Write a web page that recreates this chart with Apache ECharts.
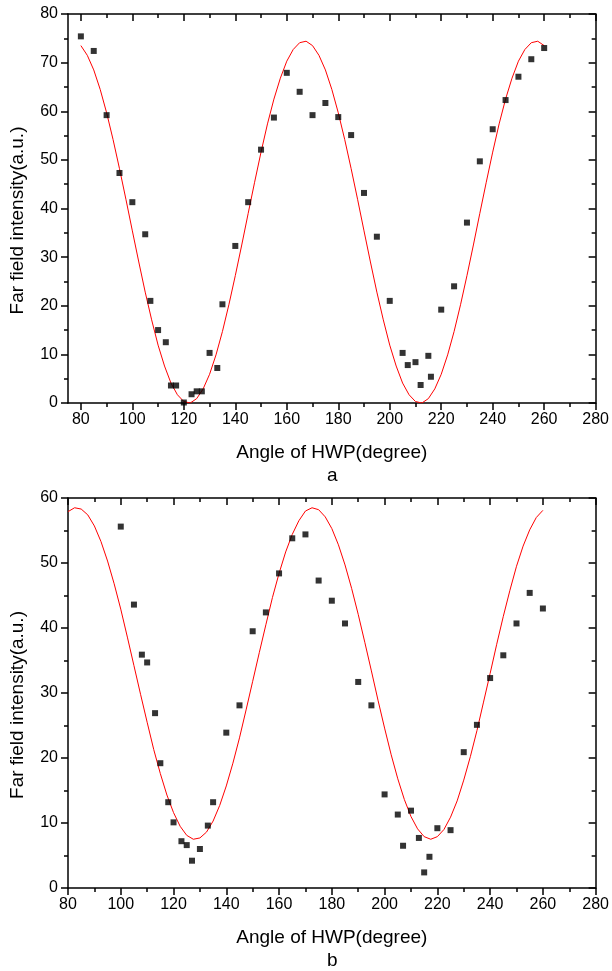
<!DOCTYPE html>
<html>
<head>
<meta charset="utf-8">
<script src="https://cdn.jsdelivr.net/npm/echarts@6/dist/echarts.min.js"></script>
<style>
html,body{margin:0;padding:0;background:#fff;}
#chart{width:612px;height:971px;}
</style>
</head>
<body>
<div id="chart"></div>
<script>
// ---- Panel a: measured points ----
var aAngle = [80,85,90,95,100,105,107,110,113,115,117,120,123,125,127,130,133,135,140,145,150,155,160,165,170,175,180,185,190,195,200,205,207,210,212,215,216,220,225,230,235,240,245,250,255,260];
var aIntensity = [75.4,72.4,59.2,47.3,41.3,34.7,21.0,15.0,12.5,3.6,3.6,0.1,1.8,2.4,2.4,10.3,7.2,20.3,32.3,41.3,52.1,58.7,67.9,64.0,59.2,61.7,58.8,55.1,43.2,34.2,21.0,10.3,7.8,8.4,3.7,9.7,5.4,19.2,24.0,37.1,49.7,56.3,62.3,67.1,70.7,73.0];

// ---- Panel b: measured points ----
var bAngle = [100,105,108,110,113,115,118,120,123,125,127,130,133,135,140,145,150,155,160,165,170,175,180,185,190,195,200,205,207,210,213,215,217,220,225,230,235,240,245,250,255,260];
var bIntensity = [55.6,43.6,35.9,34.7,26.9,19.2,13.2,10.1,7.2,6.6,4.2,6.0,9.6,13.2,23.9,28.1,39.5,42.4,48.4,53.8,54.4,47.3,44.2,40.7,31.7,28.1,14.4,11.3,6.5,11.9,7.7,2.4,4.8,9.2,8.9,20.9,25.1,32.3,35.8,40.7,45.4,43.0];

// ---- Fitted curves ----
var fitAngle = [80,82.5,85,87.5,90,92.5,95,97.5,100,102.5,105,107.5,110,112.5,115,117.5,120,122.5,125,127.5,130,132.5,135,137.5,140,142.5,145,147.5,150,152.5,155,157.5,160,162.5,165,167.5,170,172.5,175,177.5,180,182.5,185,187.5,190,192.5,195,197.5,200,202.5,205,207.5,210,212.5,215,217.5,220,222.5,225,227.5,230,232.5,235,237.5,240,242.5,245,247.5,250,252.5,255,257.5,260];
var aFit = [73.5,71.5,68.5,64.5,59.7,54.2,48.2,41.9,35.4,29.0,22.8,17.1,11.9,7.6,4.1,1.7,0.3,0.0,0.9,2.9,5.9,9.9,14.7,20.2,26.2,32.5,39.0,45.4,51.6,57.4,62.5,66.8,70.3,72.7,74.1,74.4,73.5,71.5,68.5,64.5,59.7,54.2,48.2,41.9,35.4,29.0,22.8,17.1,11.9,7.6,4.1,1.7,0.3,0.0,0.9,2.9,5.9,9.9,14.7,20.2,26.2,32.5,39.0,45.4,51.6,57.4,62.5,66.8,70.3,72.7,74.1,74.4,73.5];
var bFit = [57.9,58.5,58.3,57.4,55.7,53.3,50.3,46.8,42.9,38.6,34.2,29.8,25.5,21.3,17.6,14.3,11.6,9.5,8.1,7.5,7.7,8.6,10.3,12.7,15.7,19.2,23.1,27.4,31.8,36.2,40.5,44.7,48.4,51.7,54.4,56.5,58.0,58.5,58.2,57.1,55.3,52.8,49.7,46.1,42.1,37.8,33.4,28.9,24.6,20.5,16.8,13.6,11.0,9.1,7.9,7.5,7.9,9.0,10.9,13.4,16.6,20.2,24.2,28.6,33.0,37.5,41.8,45.8,49.5,52.6,55.1,57.0,58.1];

// ---- Tick labels ----
var aMajorX = [80,100,120,140,160,180,200,220,240,260,280];
var aMinorX = [90,110,130,150,170,190,210,230,250,270];
var xTitle = 'Angle of HWP(degree)';
var yTitle = 'Far field intensity(a.u.)';
var panelLabels = ['a', 'b'];

function zip(xs, ys) { return xs.map(function (x, i) { return [x, ys[i]]; }); }

var FONT = "'Liberation Sans', Arial, sans-serif";
var BLACK = '#000';
var lineS = { color: BLACK, width: 1.5 };

function xAx(o) {
  var base = {
    type: 'value', splitLine: { show: false },
    axisLine: { show: true, onZero: false, lineStyle: lineS },
    axisTick: { show: true, length: 7, inside: false, lineStyle: lineS },
    axisLabel: { show: false },
    minorTick: { show: false }
  };
  return Object.assign(base, o);
}

var xAxes = [
  // panel a
  xAx({ gridIndex: 0, min: 75, max: 280, position: 'bottom',
        axisTick: { show: true, length: 7, inside: false, customValues: aMajorX, lineStyle: lineS },
        axisLabel: { show: true, customValues: aMajorX, fontSize: 16, color: BLACK, fontFamily: FONT, margin: 9 },
        name: xTitle, nameLocation: 'middle', nameGap: 40,
        nameTextStyle: { fontSize: 19, color: BLACK, fontFamily: FONT } }),
  xAx({ gridIndex: 0, min: 75, max: 280, position: 'bottom', axisLine: { show: false, onZero: false },
        axisTick: { show: true, length: 4, inside: false, customValues: aMinorX, lineStyle: lineS } }),
  xAx({ gridIndex: 0, min: 75, max: 280, position: 'top',
        axisTick: { show: true, length: 7, inside: true, customValues: aMajorX, lineStyle: lineS } }),
  xAx({ gridIndex: 0, min: 75, max: 280, position: 'top', axisLine: { show: false, onZero: false },
        axisTick: { show: true, length: 4, inside: true, customValues: aMinorX, lineStyle: lineS } }),
  // panel b
  xAx({ gridIndex: 1, min: 80, max: 280, interval: 20, position: 'bottom',
        axisLabel: { show: true, fontSize: 16, color: BLACK, fontFamily: FONT, margin: 9 },
        minorTick: { show: true, splitNumber: 2, length: 4, lineStyle: lineS },
        name: xTitle, nameLocation: 'middle', nameGap: 40,
        nameTextStyle: { fontSize: 19, color: BLACK, fontFamily: FONT } }),
  xAx({ gridIndex: 1, min: 80, max: 280, interval: 20, position: 'top',
        axisTick: { show: true, length: 7, inside: true, lineStyle: lineS },
        minorTick: { show: true, splitNumber: 2, length: 4, lineStyle: lineS } })
];

function yAx(o) {
  var base = {
    type: 'value', splitLine: { show: false },
    axisLine: { show: true, onZero: false, lineStyle: lineS },
    axisTick: { show: true, length: 7, inside: false, lineStyle: lineS },
    minorTick: { show: true, splitNumber: 2, length: 4, lineStyle: lineS },
    axisLabel: { show: false }
  };
  return Object.assign(base, o);
}

var yAxes = [
  yAx({ gridIndex: 0, min: 0, max: 80, interval: 10, position: 'left',
        axisLabel: { show: true, fontSize: 16, color: BLACK, fontFamily: FONT, margin: 10 },
        name: yTitle, nameLocation: 'middle', nameGap: 41,
        nameTextStyle: { fontSize: 19, color: BLACK, fontFamily: FONT, padding: [0, 24, 0, 0] } }),
  yAx({ gridIndex: 0, min: 0, max: 80, interval: 10, position: 'right',
        axisTick: { show: true, length: 7, inside: true, lineStyle: lineS },
        minorTick: { show: true, splitNumber: 2, length: 4, lineStyle: lineS } }),
  yAx({ gridIndex: 1, min: 0, max: 60, interval: 10, position: 'left',
        axisLabel: { show: true, fontSize: 16, color: BLACK, fontFamily: FONT, margin: 10 },
        name: yTitle, nameLocation: 'middle', nameGap: 41,
        nameTextStyle: { fontSize: 19, color: BLACK, fontFamily: FONT, padding: [0, 24, 0, 0] } }),
  yAx({ gridIndex: 1, min: 0, max: 60, interval: 10, position: 'right',
        axisTick: { show: true, length: 7, inside: true, lineStyle: lineS },
        minorTick: { show: true, splitNumber: 2, length: 4, lineStyle: lineS } })
];

var option = {
  backgroundColor: '#fff',
  animation: false,
  grid: [
    { left: 68, top: 14, width: 530, height: 389 },
    { left: 68, top: 498, width: 530, height: 390 }
  ],
  xAxis: xAxes,
  yAxis: yAxes,
  graphic: [
    { type: 'text', left: 333 - 6, top: 466, style: { text: panelLabels[0], fontSize: 19, fill: BLACK, fontFamily: FONT } },
    { type: 'text', left: 333 - 6, top: 951, style: { text: panelLabels[1], fontSize: 19, fill: BLACK, fontFamily: FONT } }
  ],
  series: [
    { type: 'line', xAxisIndex: 0, yAxisIndex: 0, data: zip(fitAngle, aFit), showSymbol: false, symbol: 'none',
      lineStyle: { color: '#ff0000', width: 1 }, z: 2 },
    { type: 'scatter', xAxisIndex: 0, yAxisIndex: 0, data: zip(aAngle, aIntensity), symbol: 'rect', symbolSize: 6,
      itemStyle: { color: BLACK }, z: 3 },
    { type: 'line', xAxisIndex: 4, yAxisIndex: 2, data: zip(fitAngle, bFit), showSymbol: false, symbol: 'none',
      lineStyle: { color: '#ff0000', width: 1 }, z: 2 },
    { type: 'scatter', xAxisIndex: 4, yAxisIndex: 2, data: zip(bAngle, bIntensity), symbol: 'rect', symbolSize: 6,
      itemStyle: { color: BLACK }, z: 3 }
  ]
};

var chart = echarts.init(document.getElementById('chart'), null, { renderer: 'canvas' });
chart.setOption(option);
</script>
</body>
</html>
